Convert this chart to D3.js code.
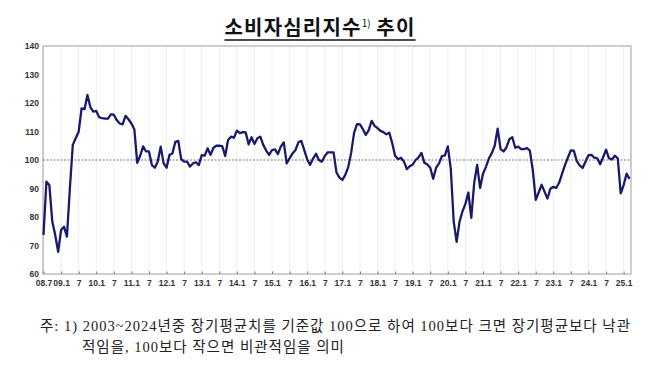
<!DOCTYPE html>
<html><head><meta charset="utf-8">
<script src="https://cdn.jsdelivr.net/npm/d3@7/dist/d3.min.js"></script>
<style>
html,body{margin:0;padding:0;background:#fff;}
svg{display:block;}
</style></head><body>
<svg id="c" width="670" height="368"></svg>
<script>
// ---------- data ----------
const titleMain = "소비자심리지수";
const titleSup = "1)";
const titleTail = " 추이";
const noteLine1 = "주: 1) 2003~2024년중 장기평균치를 기준값 100으로 하여 100보다 크면 장기평균보다 낙관";
const noteLine2 = "적임을, 100보다 작으면 비관적임을 의미";

const startYear = 2008, startMonth = 7;   // first observation: 2008.7
const csiValues = [
  // 2008.7 - 2008.12
  73.7, 92.4, 91.2, 78.4, 73.7, 67.8,
  // 2009
  75.4, 76.6, 73.1, 90.0, 105.3, 107.6, 109.9, 118.1, 117.8, 122.8, 118.5, 117.0,
  // 2010
  117.2, 115.0, 114.7, 114.5, 114.5, 116.0, 115.9, 114.0, 112.8, 112.5, 115.5, 114.3,
  // 2011
  112.8, 110.8, 99.0, 101.5, 104.8, 103.0, 103.0, 98.2, 97.3, 99.5, 104.7, 98.8,
  // 2012
  97.3, 101.8, 102.3, 106.4, 106.7, 100.3, 99.4, 99.4, 97.7, 98.8, 99.2, 98.2,
  // 2013
  101.7, 101.5, 104.1, 101.8, 104.3, 105.0, 105.0, 104.9, 101.4, 107.0, 108.2, 107.8,
  // 2014
  110.3, 109.4, 109.8, 109.7, 105.5, 108.0, 105.6, 107.6, 108.2, 105.3, 103.3, 101.8,
  // 2015
  103.5, 103.7, 102.1, 104.7, 106.2, 98.8, 100.6, 102.3, 103.5, 106.2, 106.7, 103.5,
  // 2016
  100.2, 98.3, 100.5, 102.2, 100.0, 99.4, 101.4, 102.7, 102.7, 102.7, 95.6, 93.8,
  // 2017
  93.0, 94.8, 97.5, 102.5, 109.5, 112.6, 112.5, 110.8, 108.8, 110.5, 113.7, 112.0,
  // 2018
  111.2, 110.2, 109.8, 109.0, 109.6, 106.0, 101.5, 100.3, 100.8, 99.5, 96.8, 97.8,
  // 2019
  98.4, 100.0, 100.9, 102.5, 99.0, 98.4, 97.3, 93.4, 97.3, 98.8, 101.4, 101.6,
  // 2020
  104.8, 97.0, 78.4, 71.3, 78.4, 82.0, 84.6, 88.6, 79.7, 92.0, 98.3, 90.2,
  // 2021
  95.2, 97.6, 100.5, 102.4, 105.0, 111.0, 103.8, 103.0, 104.4, 107.3, 108.0, 104.3,
  // 2022
  104.7, 103.8, 103.8, 104.2, 103.3, 96.4, 86.0, 88.6, 91.3, 88.9, 86.5, 89.9,
  // 2023
  90.6, 90.2, 92.1, 95.2, 98.3, 100.9, 103.4, 103.3, 99.6, 98.1, 97.2, 99.5,
  // 2024
  101.7, 101.8, 100.8, 100.6, 98.5, 101.0, 103.6, 100.6, 100.2, 101.5, 100.6, 88.3,
  // 2025.1 - 2025.3
  91.2, 95.2, 93.4
];
const yTicks = [60, 70, 80, 90, 100, 110, 120, 130, 140];
const xTickLabels = ["08.7","09.1","7","10.1","7","11.1","7","12.1","7","13.1","7","14.1","7",
  "15.1","7","16.1","7","17.1","7","18.1","7","19.1","7","20.1","7","21.1","7","22.1","7",
  "23.1","7","24.1","7","25.1"];
const referenceLevel = 100;

// ---------- layout ----------
const frame = {left: 43, right: 631, top: 46, bottom: 274};
const svg = d3.select("#c");

const x = d3.scaleLinear().domain([0, csiValues.length - 1]).range([43.5, 629.5]);
const y = d3.scaleLinear().domain([60, 140]).range([frame.bottom, frame.top]);

const tickIdx = xTickLabels.map((_, i) => i * 6);

// gridlines
svg.append("g").selectAll("line").data(tickIdx).join("line")
  .attr("x1", d => x(d)).attr("x2", d => x(d))
  .attr("y1", frame.top).attr("y2", frame.bottom)
  .attr("stroke", "#eceef3").attr("stroke-width", 1);

// frame
svg.append("rect")
  .attr("x", frame.left).attr("y", frame.top)
  .attr("width", frame.right - frame.left).attr("height", frame.bottom - frame.top)
  .attr("fill", "none").attr("stroke", "#b4b4b4").attr("stroke-width", 1.3);

// reference line at 100
svg.append("line")
  .attr("x1", frame.left).attr("x2", frame.right)
  .attr("y1", y(referenceLevel)).attr("y2", y(referenceLevel))
  .attr("stroke", "#555").attr("stroke-width", 0.8)
  .attr("stroke-dasharray", "2,1.5");

// y axis
const yAxis = d3.axisLeft(y).tickValues(yTicks).tickSize(0).tickPadding(4);
const gy = svg.append("g").attr("transform", `translate(${frame.left},0)`).call(yAxis);
gy.select(".domain").remove();
gy.selectAll("text")
  .attr("font-family", "'Liberation Sans', Arial, sans-serif")
  .attr("font-size", 8.5).attr("font-weight", 700).attr("fill", "#333");

// x axis
const xAxis = d3.axisBottom(x).tickValues(tickIdx)
  .tickFormat((d, i) => xTickLabels[i]).tickSize(-2.5).tickPadding(6);
const gx = svg.append("g").attr("transform", `translate(0,${frame.bottom})`).call(xAxis);
gx.select(".domain").remove();
gx.selectAll("line").attr("stroke", "#777");
gx.selectAll("text")
  .attr("font-family", "'Liberation Sans', Arial, sans-serif")
  .attr("font-size", 8.5).attr("font-weight", 700).attr("fill", "#333");

// series line
const line = d3.line().x((d, i) => x(i)).y(d => y(d));
svg.append("path").datum(csiValues)
  .attr("d", line)
  .attr("fill", "none").attr("stroke", "#1a1a6c")
  .attr("stroke-width", 2.3).attr("stroke-linejoin", "round");

// title
const title = svg.append("text")
  .attr("x", 320).attr("y", 35)
  .attr("text-anchor", "middle")
  .attr("font-family", "'Noto Sans CJK KR', sans-serif")
  .attr("font-weight", 700).attr("font-size", 20).attr("letter-spacing", 1.2).attr("fill", "#111");
title.append("tspan").text(titleMain);
title.append("tspan").attr("font-size", 10).attr("font-weight", 400).attr("letter-spacing", 0).attr("dy", -8).text(titleSup);
title.append("tspan").attr("dy", 8).text(titleTail);
const bb = title.node().getBBox();
svg.append("line")
  .attr("x1", bb.x).attr("x2", bb.x + bb.width)
  .attr("y1", 40).attr("y2", 40)
  .attr("stroke", "#111").attr("stroke-width", 1.6);

// footnote
const noteFont = "'Liberation Serif', 'Noto Sans CJK KR', serif";
const n1 = svg.append("text").attr("x", 40).attr("y", 331)
  .attr("font-family", noteFont).attr("font-size", 14.5).attr("fill", "#222")
  .text(noteLine1);
// spread letters so the first line spans the same width as in the original
const w1 = n1.node().getComputedTextLength();
const ls = (590 - w1) / (noteLine1.length - 1);
n1.attr("letter-spacing", ls);
svg.append("text").attr("x", 82).attr("y", 352)
  .attr("font-family", noteFont).attr("font-size", 14.5).attr("fill", "#222")
  .attr("letter-spacing", ls)
  .text(noteLine2);
</script>
</body></html>
